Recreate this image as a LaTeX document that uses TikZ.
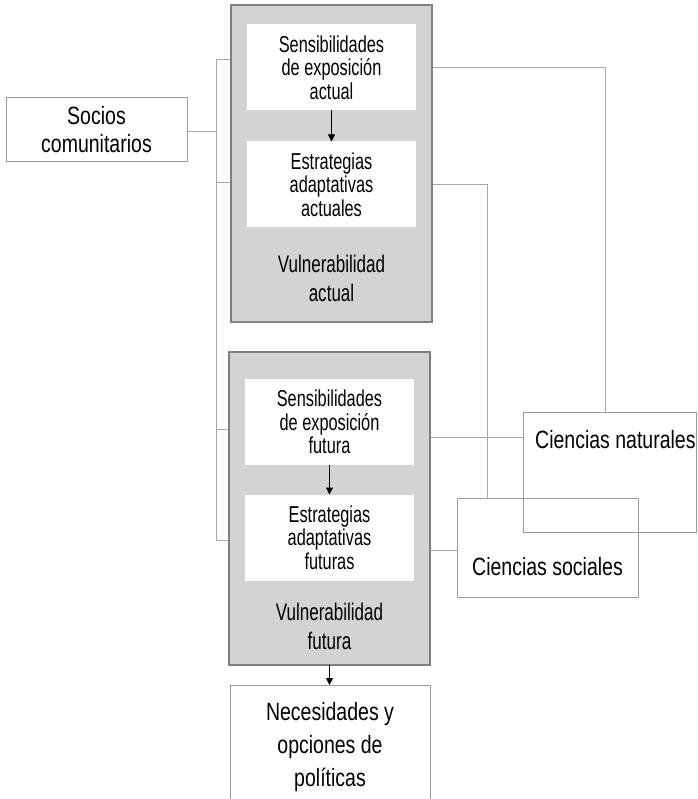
\documentclass[tikz,border=0pt]{standalone}
\usepackage{fontspec}
\setmainfont{Liberation Sans}
\newfontfamily\condA{Liberation Sans}[FakeStretch=0.71]
\newfontfamily\condB{Liberation Sans}[FakeStretch=0.78]
\usetikzlibrary{arrows.meta}
\definecolor{panelfill}{HTML}{D3D3D3}
\definecolor{panelline}{HTML}{7F7F7F}
\definecolor{wireline}{HTML}{A8A8A8}
\definecolor{boxline}{HTML}{9A9A9A}

\begin{document}
\begin{tikzpicture}[x=1pt,y=-1pt,
  panel/.style={draw=panelline, line width=1.5pt, fill=panelfill,
    inner sep=0pt, outer sep=0pt, minimum width=201pt},
  stage/.style={fill=white, draw=none, inner sep=0pt, outer sep=0pt,
    minimum width=169pt, minimum height=86pt, align=center,
    font=\condA\fontsize{23}{23.5}\selectfont},
  paneltitle/.style={inner sep=0pt, align=center,
    font=\condA\fontsize{24}{29}\selectfont},
  party/.style={draw=boxline, line width=1pt, inner sep=0pt, outer sep=0pt},
  bigtext/.style={inner sep=0pt, align=center,
    font=\condB\fontsize{25}{28}\selectfont},
  wire/.style={draw=wireline, line width=1pt},
  flow/.style={draw=black, line width=0.8pt,
    -{Triangle[width=7pt,length=7pt]}}
]
\path[use as bounding box] (0,0) rectangle (697,799);
\clip (0,0) rectangle (697,799);

% outer partner boxes (outline only)
\node[party, minimum width=181pt, minimum height=64pt] (so) at (96.5,130) {};
\node[bigtext] (sot) at (96.5,130) {Socios\\comunitarios};
\node[party, minimum width=173pt, minimum height=120pt] (cn) at (609.5,472) {};
\node[bigtext, anchor=base west] (cnt) at (535,448) {Ciencias naturales};
\node[party, minimum width=181pt, minimum height=99pt] (cs) at (547.5,547.5) {};
\node[bigtext, anchor=base] (cst) at (547.5,575) {Ciencias sociales};

% panel geometry (needed by the wires)
\path (331.5,163.5) node[panel, minimum height=317pt, draw=none, fill=none] (va) {};
\path (329.5,508.5) node[panel, minimum height=313pt, draw=none, fill=none] (vf) {};

% left bracket from the community partners
\coordinate (b0) at (216,132);
\coordinate (b1) at (216,60);
\coordinate (b2) at (216,183);
\coordinate (b3) at (216,429);
\coordinate (b4) at (216,540);
\draw[wire] (b1) -- (b4);
\draw[wire] (so.east |- b0) -- (b0);
\draw[wire] (b1) -- (b1 -| va.west);
\draw[wire] (b2) -- (b2 -| va.west);
\draw[wire] (b3) -- (b3 -| vf.west);
\draw[wire] (b4) -- (b4 -| vf.west);

% right wires to the sciences
\coordinate (nIn) at (605.5,412);
\coordinate (sIn) at (487,498);
\coordinate (nIn2) at (523,437);
\coordinate (sIn2) at (457,550);
\draw[wire] (va.east |- 0,68) -| (nIn);
\draw[wire] (va.east |- 0,185) -| (sIn);
\draw[wire] (vf.east |- nIn2) -- (nIn2);
\draw[wire] (vf.east |- sIn2) -- (sIn2);

% current vulnerability panel
\node[panel, minimum height=317pt] (vaBox) at (331.5,163.5) {};
\node[stage] (sa) at (331.5,67.5) {Sensibilidades\\de exposición\\actual};
\node[stage] (ea) at (331.5,184.5) {Estrategias\\adaptativas\\actuales};
\node[paneltitle] (vat) at (331.5,278) {Vulnerabilidad\\actual};
\draw[flow] (sa) -- (ea);

% future vulnerability panel
\node[panel, minimum height=313pt] (vfBox) at (329.5,508.5) {};
\node[stage] (sf) at (329.5,422) {Sensibilidades\\de exposición\\futura};
\node[stage] (ef) at (329.5,537.5) {Estrategias\\adaptativas\\futuras};
\node[paneltitle] (vft) at (329.5,626) {Vulnerabilidad\\futura};
\draw[flow] (sf) -- (ef);

% policy outcome
\node[party, minimum width=200pt, minimum height=125pt] (nec) at (330,747.5) {};
\node[bigtext, font=\condB\fontsize{25}{33}\selectfont] (nect) at (330,747.5)
  {Necesidades y\\opciones de\\políticas};
\draw[flow] (vfBox.south) -- (vfBox.south |- nec.north);
\end{tikzpicture}
\end{document}
